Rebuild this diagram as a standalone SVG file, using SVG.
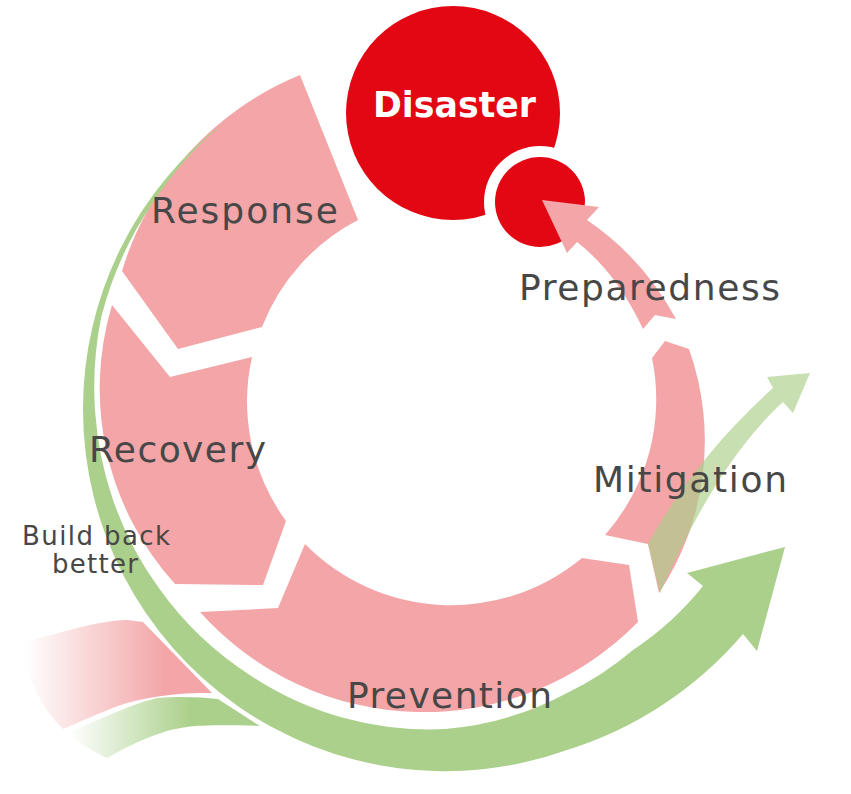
<svg xmlns="http://www.w3.org/2000/svg" width="851" height="794" viewBox="0 0 851 794">
<style>
.pink{fill:#f3a5a7}
.lbl{font-family:"DejaVu Sans","Liberation Sans",sans-serif;font-size:36px;fill:#474747}
.small{font-size:26px}
.dis{font-family:"DejaVu Sans","Liberation Sans",sans-serif;font-weight:bold;font-size:35px;fill:#ffffff}
</style>
<defs>
<linearGradient id="gp" gradientUnits="userSpaceOnUse" x1="25" y1="0" x2="165" y2="0">
<stop offset="0" stop-color="#f3a5a7" stop-opacity="0"/>
<stop offset="1" stop-color="#f3a5a7" stop-opacity="1"/>
</linearGradient>
<linearGradient id="gg" gradientUnits="userSpaceOnUse" x1="70" y1="0" x2="190" y2="0">
<stop offset="0" stop-color="#abd08b" stop-opacity="0"/>
<stop offset="1" stop-color="#abd08b" stop-opacity="1"/>
</linearGradient>
</defs>
<rect width="851" height="794" fill="#ffffff"/>
<g id="waves">
<path fill="url(#gp)" d="M20,643 C45,638 95,620 127,620 L143,622 L212,693 C185,693 160,694 127,703 C105,710 80,722 63,729 Q32,700 20,643 Z"/>
<path fill="url(#gg)" d="M67,733 C95,722 125,706 157,698 C180,696 200,697 218,699 L260,726 C230,725 200,725 187,727 C160,730 130,745 107,758 Q85,748 67,733 Z"/>
</g>
<g id="response"><path class="pink" d="M300,75 L358,220 A203,203 0 0 0 262,327 L178,349 L122,271 A307,307 0 0 1 300,75 Z"/></g>
<g id="recovery"><path class="pink" d="M112,305 L170,377 L252,357 A203,203 0 0 0 286,521 L263,585 L175,584 A291,291 0 0 1 112,305 Z"/></g>
<g id="prevention"><path class="pink" d="M305,544 L278,608 L200,612 A300,300 0 0 0 638,622 L629,565 L582,558 A205,205 0 0 1 305,544 Z"/></g>
<g id="mitigation"><path class="pink" d="M652,358 L665,341 L689,349 A275,275 0 0 1 659,593 L648,544 L605,535 A205,205 0 0 0 652,358 Z"/></g>
<g id="build-back-better-arrow">
<path fill="#abd08b" d="M227,120 A362,362 0 0 0 83,410 A362,362 0 0 0 567,750 A380,380 0 0 0 743,634 L757,651 L785,547 L687,573 L703,586 A306,306 0 0 1 633,650 A306,306 0 0 1 567,693 A312,312 0 0 1 445,729 A322,322 0 0 1 251.6,676.2 A333,333 0 0 1 159.2,588.6 A340,340 0 0 1 112.7,499.1 A347,347 0 0 1 95,410 A353,353 0 0 1 101.1,317.8 A357,357 0 0 1 151.7,204.6 A360,360 0 0 1 227,120 Z"/>
</g>
<g id="disaster">
<circle cx="453" cy="113" r="107" fill="#e30613"/>
<circle cx="540" cy="202" r="56" fill="#ffffff"/>
<circle cx="540" cy="202" r="45" fill="#e30613"/>
<text class="dis" x="373" y="117" textLength="163" lengthAdjust="spacingAndGlyphs">Disaster</text>
</g>
<g id="connectors">
<path class="pink" d="M643,329 L655,315 L676,319 Q643,258 587,220 L599,207 L542,200 L567,253 L577,242 Q616,272 643,329 Z"/>
<path fill="#abd08b" fill-opacity="0.67" d="M648,544 C675,495 715,440 773,388 L767,377 L810,373 L793,413 L783,402 C730,450 690,525 660,593 Z"/>
</g>
<g id="labels">
<text class="lbl" x="151" y="223" textLength="187">Response</text>
<text class="lbl" x="519" y="300" textLength="261">Preparedness</text>
<text class="lbl" x="89" y="462" textLength="177">Recovery</text>
<text class="lbl" x="593" y="492" textLength="194">Mitigation</text>
<text class="lbl" x="347" y="708" textLength="205">Prevention</text>
<text class="lbl small" x="22" y="545" textLength="148">Build back</text>
<text class="lbl small" x="52" y="573" textLength="86">better</text>
</g>
</svg>
